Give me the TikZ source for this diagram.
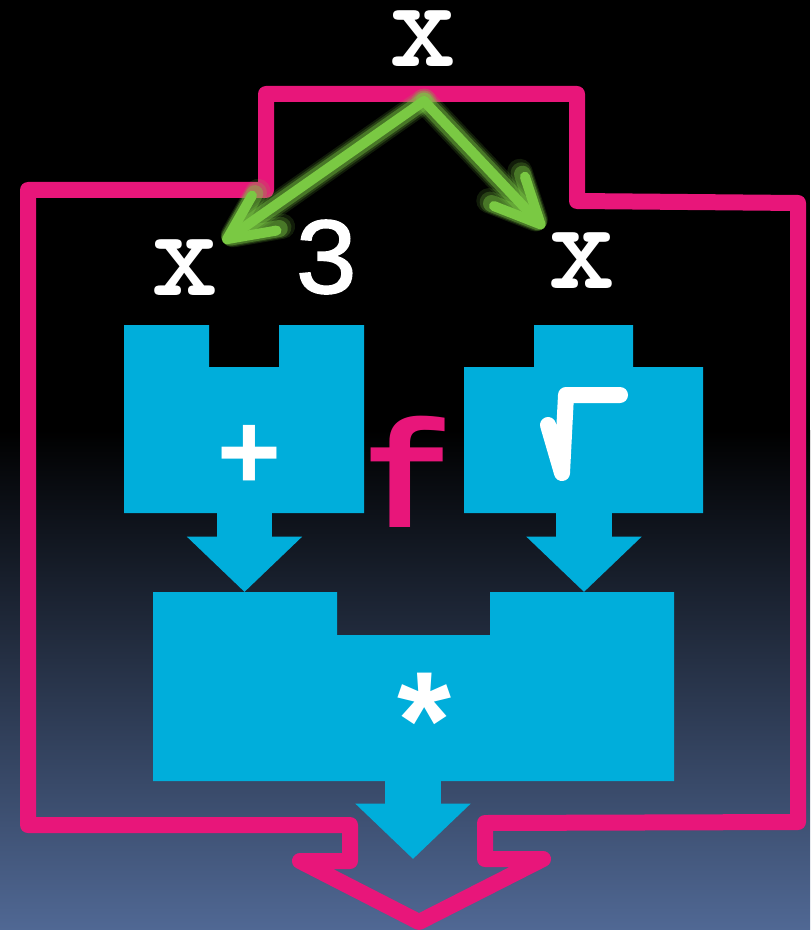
\documentclass[tikz,border=0pt]{standalone}
\usepackage{fontspec}
\usetikzlibrary{arrows.meta}
\newfontfamily\monofont{Liberation Mono}
\newfontfamily\threefont{Liberation Mono}[BoldFont={Liberation Mono}, BoldFeatures={FakeBold=1.3}]
\newfontfamily\sansfont{Liberation Sans}
\definecolor{pinkc}{RGB}{232,22,122}
\definecolor{bluec}{RGB}{0,174,219}
\definecolor{greenc}{RGB}{122,201,67}
\definecolor{bgblue}{RGB}{80,104,148}
\tikzset{
  blockshape/.style={fill=bluec},
  fatarrow/.style={draw=bluec, line width=41.5pt, -{Triangle[length=41.5pt,width=84pt]}},
  outline/.style={draw=pinkc, line width=12pt, line join=round},
  glowline/.style={draw=greenc, line cap=round, line join=round, -{Straight Barb[round,length=34pt,width=32pt]}},
  xlab/.style={text=white, inner sep=0pt, font=\ttfamily\bfseries\fontsize{96}{96}\selectfont},
  threelab/.style={text=white, inner sep=0pt, font=\threefont\bfseries\fontsize{82}{82}\selectfont},
  flab/.style={text=pinkc, inner sep=0pt, font=\monofont\bfseries\fontsize{113}{113}\selectfont},
  oplab/.style={text=white, inner sep=0pt, font=\sansfont\bfseries\fontsize{82}{82}\selectfont},
  starlab/.style={text=white, inner sep=0pt, font=\sansfont\bfseries\fontsize{104}{104}\selectfont},
  rootsign/.style={draw=white, line width=12pt, line cap=round, line join=round}
}
\begin{document}
\begin{tikzpicture}[x=0.75pt,y=-0.75pt]
\useasboundingbox (0,0) rectangle (810,930);
% background
\fill[black] (0,0) rectangle (810,431);
\shade[top color=black,bottom color=bgblue] (0,430) rectangle (810,930);

% blocks
\fill[blockshape] (124,325) -- (209,325) -- (209,367) -- (279,367) -- (279,325) -- (364,325) -- (364,513) -- (124,513) -- cycle;
\fill[blockshape] (464,367) -- (534,367) -- (534,325) -- (633,325) -- (633,367) -- (703,367) -- (703,513) -- (464,513) -- cycle;
\fill[blockshape] (153,592) -- (337,592) -- (337,635) -- (490,635) -- (490,592) -- (674,592) -- (674,781) -- (153,781) -- cycle;

% fat arrows
\coordinate (plusout) at (244.5,513);
\coordinate (plusin) at (244.5,592);
\coordinate (rootout) at (584,513);
\coordinate (rootin) at (584,592);
\coordinate (mulout) at (413,781);
\coordinate (result) at (413,859);
\draw[fatarrow] (plusout) -- (plusin);
\draw[fatarrow] (rootout) -- (rootin);
\draw[fatarrow] (mulout) -- (result);

% operator labels
\node[oplab] (plus) at (249,457) {+};
\node[starlab] (star) at (424,721) {*};
\draw[rootsign] (548,425) -- (562,473) -- (566,395) -- (620,395);

% pink outline
\draw[outline] (350,825) -- (28,825) -- (28,190) -- (266,190) -- (266,94) -- (577,94) -- (577,201) -- (798,203) -- (798,822) -- (485,823) -- (485,859) -- (543,859) -- (419,922) -- (300,861) -- (350,861) -- cycle;

% f label
\node[flab] (f) at (408,472) {f};

% text labels
\node[xlab] (xtop) at (423,39) {x};
\node[xlab] (xl) at (185,268) {x};
\node[xlab] (xr) at (582,261) {x};
\node[threelab] (three) at (326,257) {3};

% green arrows with glow
\coordinate (src) at (424,101);
\coordinate (tipL) at (223,242);
\coordinate (tipR) at (544,228);
\foreach \w/\o in {25/0.14,21/0.22,17/0.4}{
  \draw[glowline, opacity=\o, line width=\w*0.75pt] (src) -- (tipL);
  \draw[glowline, opacity=\o, line width=\w*0.75pt] (src) -- (tipR);
}
\draw[glowline, line width=7.5pt] (src) -- (tipL);
\draw[glowline, line width=7.5pt] (src) -- (tipR);
\end{tikzpicture}
\end{document}
